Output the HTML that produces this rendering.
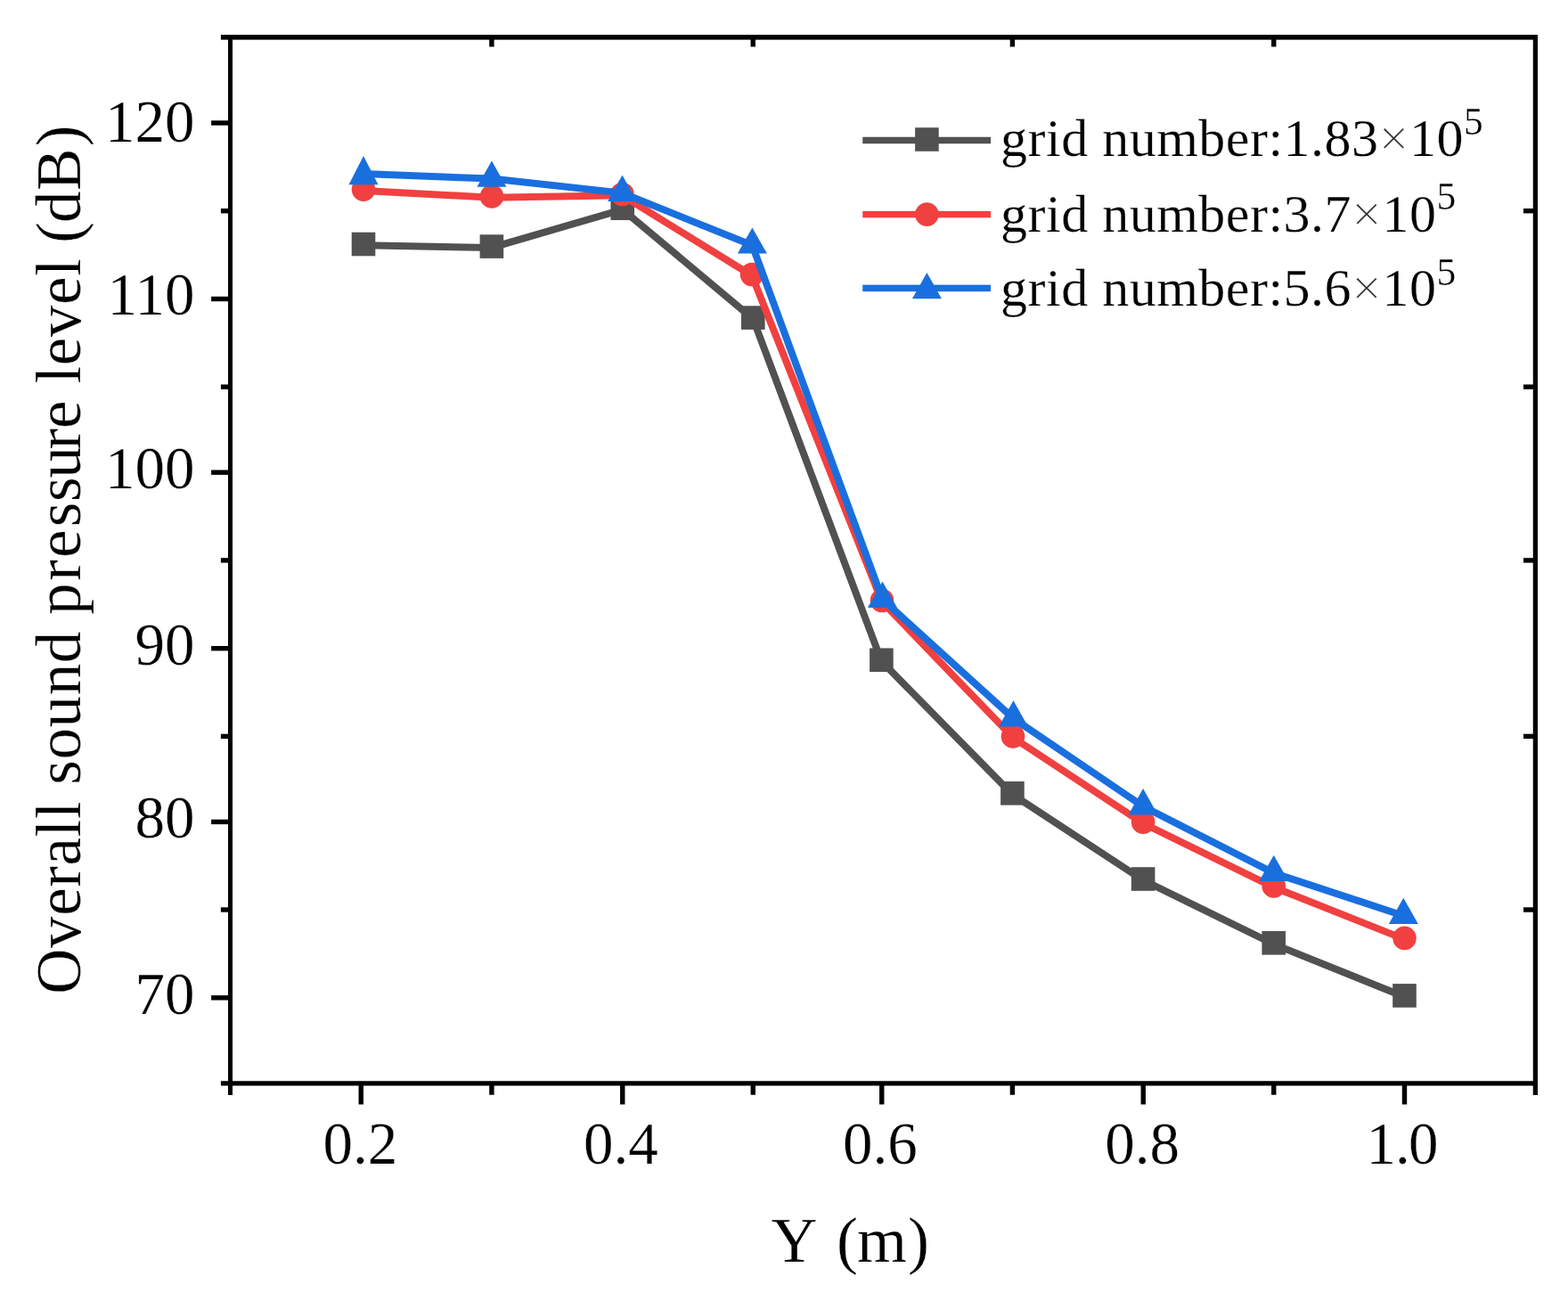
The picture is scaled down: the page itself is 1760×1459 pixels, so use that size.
<!DOCTYPE html>
<html lang="en"><head><meta charset="utf-8"><title>Overall sound pressure level vs Y</title>
<style>
html,body{margin:0;padding:0;background:#fff;}
body{width:1760px;height:1459px;overflow:hidden;}
svg{display:block;}
text{font-family:"Liberation Serif","Times New Roman",serif;fill:#000;stroke:#fff;stroke-width:0.25px;paint-order:fill stroke;}
.tk{font-size:67px;}
.ti{font-size:72.00px;}
.yt{font-size:71.00px;letter-spacing:0.550px;}
.lg{font-size:60px;letter-spacing:0.500px;}
</style></head><body>
<svg width="1760" height="1459" viewBox="0 0 1760 1459">
<rect x="0" y="0" width="1760" height="1459" fill="#ffffff"/>
<g id="series-black">
<polyline points="408.00,275.33 551.90,277.93 698.75,235.08 845.30,357.93 989.40,742.08 1136.40,891.63 1283.10,987.83 1429.70,1059.63 1576.50,1118.73" fill="none" stroke="#515151" stroke-width="8.00" stroke-linejoin="miter" stroke-linecap="butt"/>
<rect x="394.70" y="260.70" width="26.60" height="26.60" fill="#515151"/>
<rect x="538.60" y="263.30" width="26.60" height="26.60" fill="#515151"/>
<rect x="685.45" y="220.45" width="26.60" height="26.60" fill="#515151"/>
<rect x="832.00" y="343.30" width="26.60" height="26.60" fill="#515151"/>
<rect x="976.10" y="727.45" width="26.60" height="26.60" fill="#515151"/>
<rect x="1123.10" y="877.00" width="26.60" height="26.60" fill="#515151"/>
<rect x="1269.80" y="973.20" width="26.60" height="26.60" fill="#515151"/>
<rect x="1416.40" y="1045.00" width="26.60" height="26.60" fill="#515151"/>
<rect x="1563.20" y="1104.10" width="26.60" height="26.60" fill="#515151"/>
</g>
<g id="series-red">
<polyline points="408.00,213.93 552.00,221.73 698.50,219.33 844.00,309.33 990.00,675.33 1137.00,827.73 1283.10,924.03 1429.70,995.73 1576.50,1054.13" fill="none" stroke="#F14040" stroke-width="8.00" stroke-linejoin="miter" stroke-linecap="butt"/>
<circle cx="408.00" cy="212.60" r="13.30" fill="#F14040"/>
<circle cx="552.00" cy="220.40" r="13.30" fill="#F14040"/>
<circle cx="698.50" cy="218.00" r="13.30" fill="#F14040"/>
<circle cx="844.00" cy="308.00" r="13.30" fill="#F14040"/>
<circle cx="990.00" cy="674.00" r="13.30" fill="#F14040"/>
<circle cx="1137.00" cy="826.40" r="13.30" fill="#F14040"/>
<circle cx="1283.10" cy="922.70" r="13.30" fill="#F14040"/>
<circle cx="1429.70" cy="994.40" r="13.30" fill="#F14040"/>
<circle cx="1576.50" cy="1052.80" r="13.30" fill="#F14040"/>
</g>
<g id="series-blue">
<polyline points="408.00,195.00 551.90,200.60 698.50,216.60 844.40,275.40 990.50,672.60 1137.50,806.25 1283.10,905.00 1429.75,979.75 1575.30,1027.75" fill="none" stroke="#1A6FDF" stroke-width="8.00" stroke-linejoin="miter" stroke-linecap="butt"/>
<polygon points="408.00,175.00 424.50,207.25 391.50,207.25" fill="#1A6FDF"/>
<polygon points="551.90,180.60 568.40,209.75 535.40,209.75" fill="#1A6FDF"/>
<polygon points="698.50,196.60 715.00,225.90 682.00,225.90" fill="#1A6FDF"/>
<polygon points="844.40,255.40 860.90,284.60 827.90,284.60" fill="#1A6FDF"/>
<polygon points="990.50,652.60 1007.00,681.90 974.00,681.90" fill="#1A6FDF"/>
<polygon points="1137.50,786.25 1154.00,815.60 1121.00,815.60" fill="#1A6FDF"/>
<polygon points="1283.10,885.00 1299.60,914.40 1266.60,914.40" fill="#1A6FDF"/>
<polygon points="1429.75,959.75 1446.25,989.00 1413.25,989.00" fill="#1A6FDF"/>
<polygon points="1575.30,1007.75 1591.80,1036.90 1558.80,1036.90" fill="#1A6FDF"/>
</g>
<g id="axes">
<rect x="247.90" y="39.00" width="1478.10" height="5.60" fill="#000000"/>
<rect x="247.90" y="1213.25" width="1478.10" height="5.25" fill="#000000"/>
<rect x="256.00" y="39.00" width="5.00" height="1190.00" fill="#000000"/>
<rect x="1720.75" y="39.00" width="5.25" height="1190.00" fill="#000000"/>
<rect x="237.10" y="135.30" width="19.90" height="5.40" fill="#000000"/>
<rect x="247.90" y="234.00" width="9.10" height="5.40" fill="#000000"/>
<rect x="237.10" y="332.80" width="19.90" height="5.40" fill="#000000"/>
<rect x="247.90" y="431.50" width="9.10" height="5.40" fill="#000000"/>
<rect x="237.10" y="527.50" width="19.90" height="5.40" fill="#000000"/>
<rect x="247.90" y="626.20" width="9.10" height="5.40" fill="#000000"/>
<rect x="237.10" y="725.00" width="19.90" height="5.40" fill="#000000"/>
<rect x="247.90" y="823.70" width="9.10" height="5.40" fill="#000000"/>
<rect x="237.10" y="919.70" width="19.90" height="5.40" fill="#000000"/>
<rect x="247.90" y="1018.30" width="9.10" height="5.40" fill="#000000"/>
<rect x="237.10" y="1117.10" width="19.90" height="5.40" fill="#000000"/>
<rect x="1710.00" y="234.00" width="11.75" height="5.40" fill="#000000"/>
<rect x="1710.00" y="431.50" width="11.75" height="5.40" fill="#000000"/>
<rect x="1710.00" y="626.20" width="11.75" height="5.40" fill="#000000"/>
<rect x="1710.00" y="823.70" width="11.75" height="5.40" fill="#000000"/>
<rect x="1710.00" y="1018.30" width="11.75" height="5.40" fill="#000000"/>
<rect x="402.55" y="1217.50" width="5.40" height="22.00" fill="#000000"/>
<rect x="549.20" y="1217.50" width="5.40" height="11.25" fill="#000000"/>
<rect x="696.05" y="1217.50" width="5.40" height="22.00" fill="#000000"/>
<rect x="842.55" y="1217.50" width="5.40" height="11.25" fill="#000000"/>
<rect x="987.05" y="1217.50" width="5.40" height="22.00" fill="#000000"/>
<rect x="1133.70" y="1217.50" width="5.40" height="11.25" fill="#000000"/>
<rect x="1280.55" y="1217.50" width="5.40" height="22.00" fill="#000000"/>
<rect x="1427.05" y="1217.50" width="5.40" height="11.25" fill="#000000"/>
<rect x="1573.80" y="1217.50" width="5.40" height="22.00" fill="#000000"/>
<rect x="549.20" y="43.60" width="5.40" height="8.90" fill="#000000"/>
<rect x="842.55" y="43.60" width="5.40" height="8.90" fill="#000000"/>
<rect x="1133.70" y="43.60" width="5.40" height="8.90" fill="#000000"/>
<rect x="1427.05" y="43.60" width="5.40" height="8.90" fill="#000000"/>
</g>
<g id="ticklabels">
<text class="tk" x="404.25" y="1306.30" text-anchor="middle">0.2</text>
<text class="tk" x="696.75" y="1306.30" text-anchor="middle">0.4</text>
<text class="tk" x="987.95" y="1306.30" text-anchor="middle">0.6</text>
<text class="tk" x="1282.05" y="1306.30" text-anchor="middle">0.8</text>
<text class="tk" x="1533.6 1566.1 1581.1" y="1306.3">1.0</text>
<text class="tk" x="218.60" y="158.70" text-anchor="end">120</text>
<text class="tk" x="218.60" y="353.40" text-anchor="end">110</text>
<text class="tk" x="218.60" y="547.90" text-anchor="end">100</text>
<text class="tk" x="218.60" y="745.70" text-anchor="end">90</text>
<text class="tk" x="218.60" y="939.80" text-anchor="end">80</text>
<text class="tk" x="218.60" y="1137.60" text-anchor="end">70</text>
</g>
<g id="titles">
<text class="ti" x="865.5 917 939.0 961.9 1018.9" y="1416.00">Y (m)</text>
<text class="ti yt" transform="translate(90.00,627.95) rotate(-90)" text-anchor="middle" dx="0 0 0 0 0 0 0 0 0 0 0 0 0 0 0 1.9 1.85 2.5 0 -1.85 -3.8 -0.6 0 0 0 0 0 0 0 -1.25 -1.55 0 1.7">Overall sound pressure level (dB)</text>
</g>
<g id="legend">
<rect x="968.25" y="153.75" width="143.75" height="7.50" fill="#515151"/>
<rect x="1027.10" y="143.20" width="26.60" height="26.60" fill="#515151"/>
<text class="lg" x="1123.00" y="175.00">grid number:1.83<tspan fill="#333" stroke-width="1.1">×</tspan>10<tspan font-size="43.5px" dy="-23.6">5</tspan></text>
<rect x="968.25" y="236.85" width="143.75" height="7.50" fill="#F14040"/>
<circle cx="1040.40" cy="240.60" r="13.30" fill="#F14040"/>
<text class="lg" x="1123.00" y="260.00">grid number:3.7<tspan fill="#333" stroke-width="1.1">×</tspan>10<tspan font-size="43.5px" dy="-25.3">5</tspan></text>
<rect x="968.25" y="319.65" width="143.75" height="7.50" fill="#1A6FDF"/>
<polygon points="1040.40,306.10 1056.90,335.30 1023.90,335.30" fill="#1A6FDF"/>
<text class="lg" x="1123.00" y="343.20">grid number:5.6<tspan fill="#333" stroke-width="1.1">×</tspan>10<tspan font-size="43.5px" dy="-23.2">5</tspan></text>
</g>
</svg>
</body></html>
